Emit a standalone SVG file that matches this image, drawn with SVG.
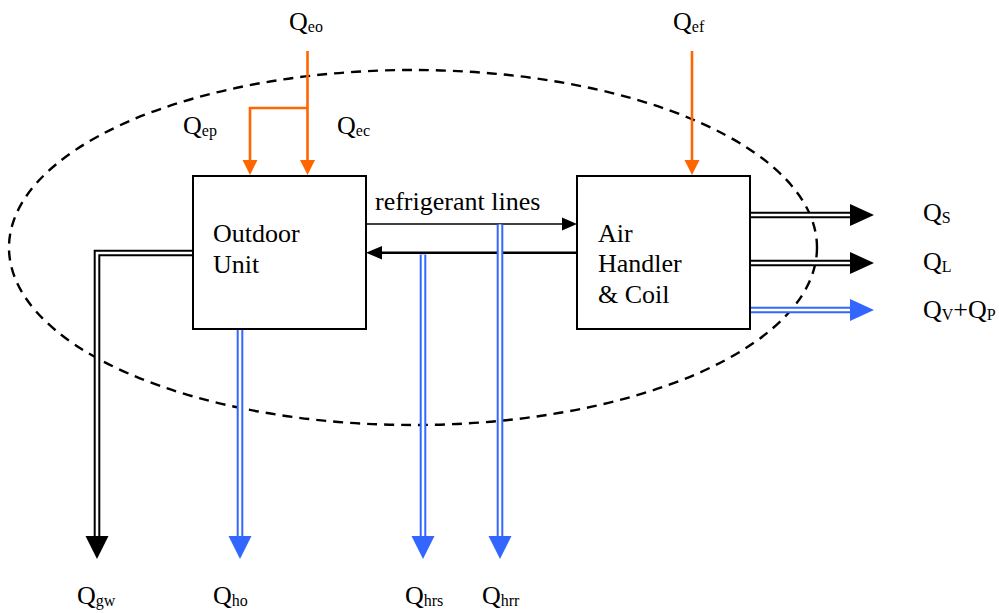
<svg xmlns="http://www.w3.org/2000/svg" width="999" height="613" viewBox="0 0 999 613">
<style>
.t{font-size:26px;fill:#000}
.sub{font-size:16px}
.box{fill:#fff;stroke:#000;stroke-width:2}
.or{fill:none;stroke:#FF6600;stroke-width:2.6}
.orh{fill:#FF6600}
.ko{fill:none;stroke:#000;stroke-width:6.6}
.bo{fill:none;stroke:#3366FF;stroke-width:6.6}
.in{fill:none;stroke:#fff;stroke-width:2.6}
.kh{fill:#000}
.bh{fill:#3366FF}
</style>
<rect width="999" height="613" fill="#fff"/>
<ellipse id="boundary" cx="413" cy="247.5" rx="404" ry="177.5" fill="none" stroke="#000" stroke-width="2.4" stroke-dasharray="10 7"/>
<g id="connectors">
  <path class="or" d="M307.5,51 V161"/>
  <path class="or" d="M307.5,108 H250 V161"/>
  <polygon class="orh" points="300,160 315,160 307.5,175"/>
  <polygon class="orh" points="242.5,160 257.5,160 250,175"/>
  <path class="or" d="M692,51 V161"/>
  <polygon class="orh" points="684.5,160 699.5,160 692,175"/>
  <path d="M366,224 H564" fill="none" stroke="#000" stroke-width="1.5"/>
  <polygon class="kh" points="562,217.5 577,224 562,230.5"/>
  <path d="M381,252.7 H577" fill="none" stroke="#000" stroke-width="2.5"/>
  <polygon class="kh" points="382,246 366,252.7 382,259.5"/>
  <path class="ko" d="M193,253 H97 V537"/>
  <path class="in" d="M193,253 H97 V537"/>
  <polygon class="kh" points="85.5,536 108.5,536 97,559"/>
  <path class="bo" d="M240,330 V537"/>
  <path class="in" d="M240,330 V537"/>
  <polygon class="bh" points="228.5,536 251.5,536 240,559"/>
  <path class="bo" d="M423,254.5 V537"/>
  <path class="in" d="M423,254.5 V537"/>
  <polygon class="bh" points="411.5,536 434.5,536 423,559"/>
  <path class="bo" d="M500,224.5 V537"/>
  <path class="in" d="M500,224.5 V537"/>
  <polygon class="bh" points="488.5,536 511.5,536 500,559"/>
  <path class="ko" d="M751,215 H852"/>
  <path class="in" d="M751,215 H852"/>
  <polygon class="kh" points="850,204 874,215 850,226"/>
  <path class="ko" d="M751,263 H852"/>
  <path class="in" d="M751,263 H852"/>
  <polygon class="kh" points="850,252 874,263 850,274"/>
  <path class="bo" d="M751,310 H852"/>
  <path class="in" d="M751,310 H852"/>
  <polygon class="bh" points="850,299 874,310 850,321"/>
</g>
<g font-family="Liberation Serif, DejaVu Serif, serif">
<g id="outdoor-unit">
  <rect class="box" x="193" y="176" width="173" height="153"/>
  <text class="t" x="213" y="242">Outdoor</text>
  <text class="t" x="213" y="273">Unit</text>
</g>
<g id="air-handler">
  <rect class="box" x="577" y="176" width="173" height="153"/>
  <text class="t" x="598" y="242">Air</text>
  <text class="t" x="598" y="272">Handler</text>
  <text class="t" x="598" y="303">&amp; Coil</text>
</g>
<g id="labels">
  <text class="t" x="375" y="210">refrigerant lines</text>
  <text class="t" x="289" y="30">Q<tspan class="sub" dy="2">eo</tspan></text>
  <text class="t" x="673" y="30">Q<tspan class="sub" dy="2">ef</tspan></text>
  <text class="t" x="183" y="134">Q<tspan class="sub" dy="2">ep</tspan></text>
  <text class="t" x="337" y="134">Q<tspan class="sub" dy="2">ec</tspan></text>
  <text class="t" x="923" y="221">Q<tspan class="sub" dy="2">S</tspan></text>
  <text class="t" x="923" y="270">Q<tspan class="sub" dy="2">L</tspan></text>
  <text class="t" x="923" y="318">Q<tspan class="sub" dy="2">V</tspan><tspan dy="-2">+Q</tspan><tspan class="sub" dy="2">P</tspan></text>
  <text class="t" x="77" y="604">Q<tspan class="sub" dy="2">gw</tspan></text>
  <text class="t" x="213" y="604">Q<tspan class="sub" dy="2">ho</tspan></text>
  <text class="t" x="405" y="604">Q<tspan class="sub" dy="2">hrs</tspan></text>
  <text class="t" x="482" y="604">Q<tspan class="sub" dy="2">hrr</tspan></text>
</g>
</g>
</svg>
